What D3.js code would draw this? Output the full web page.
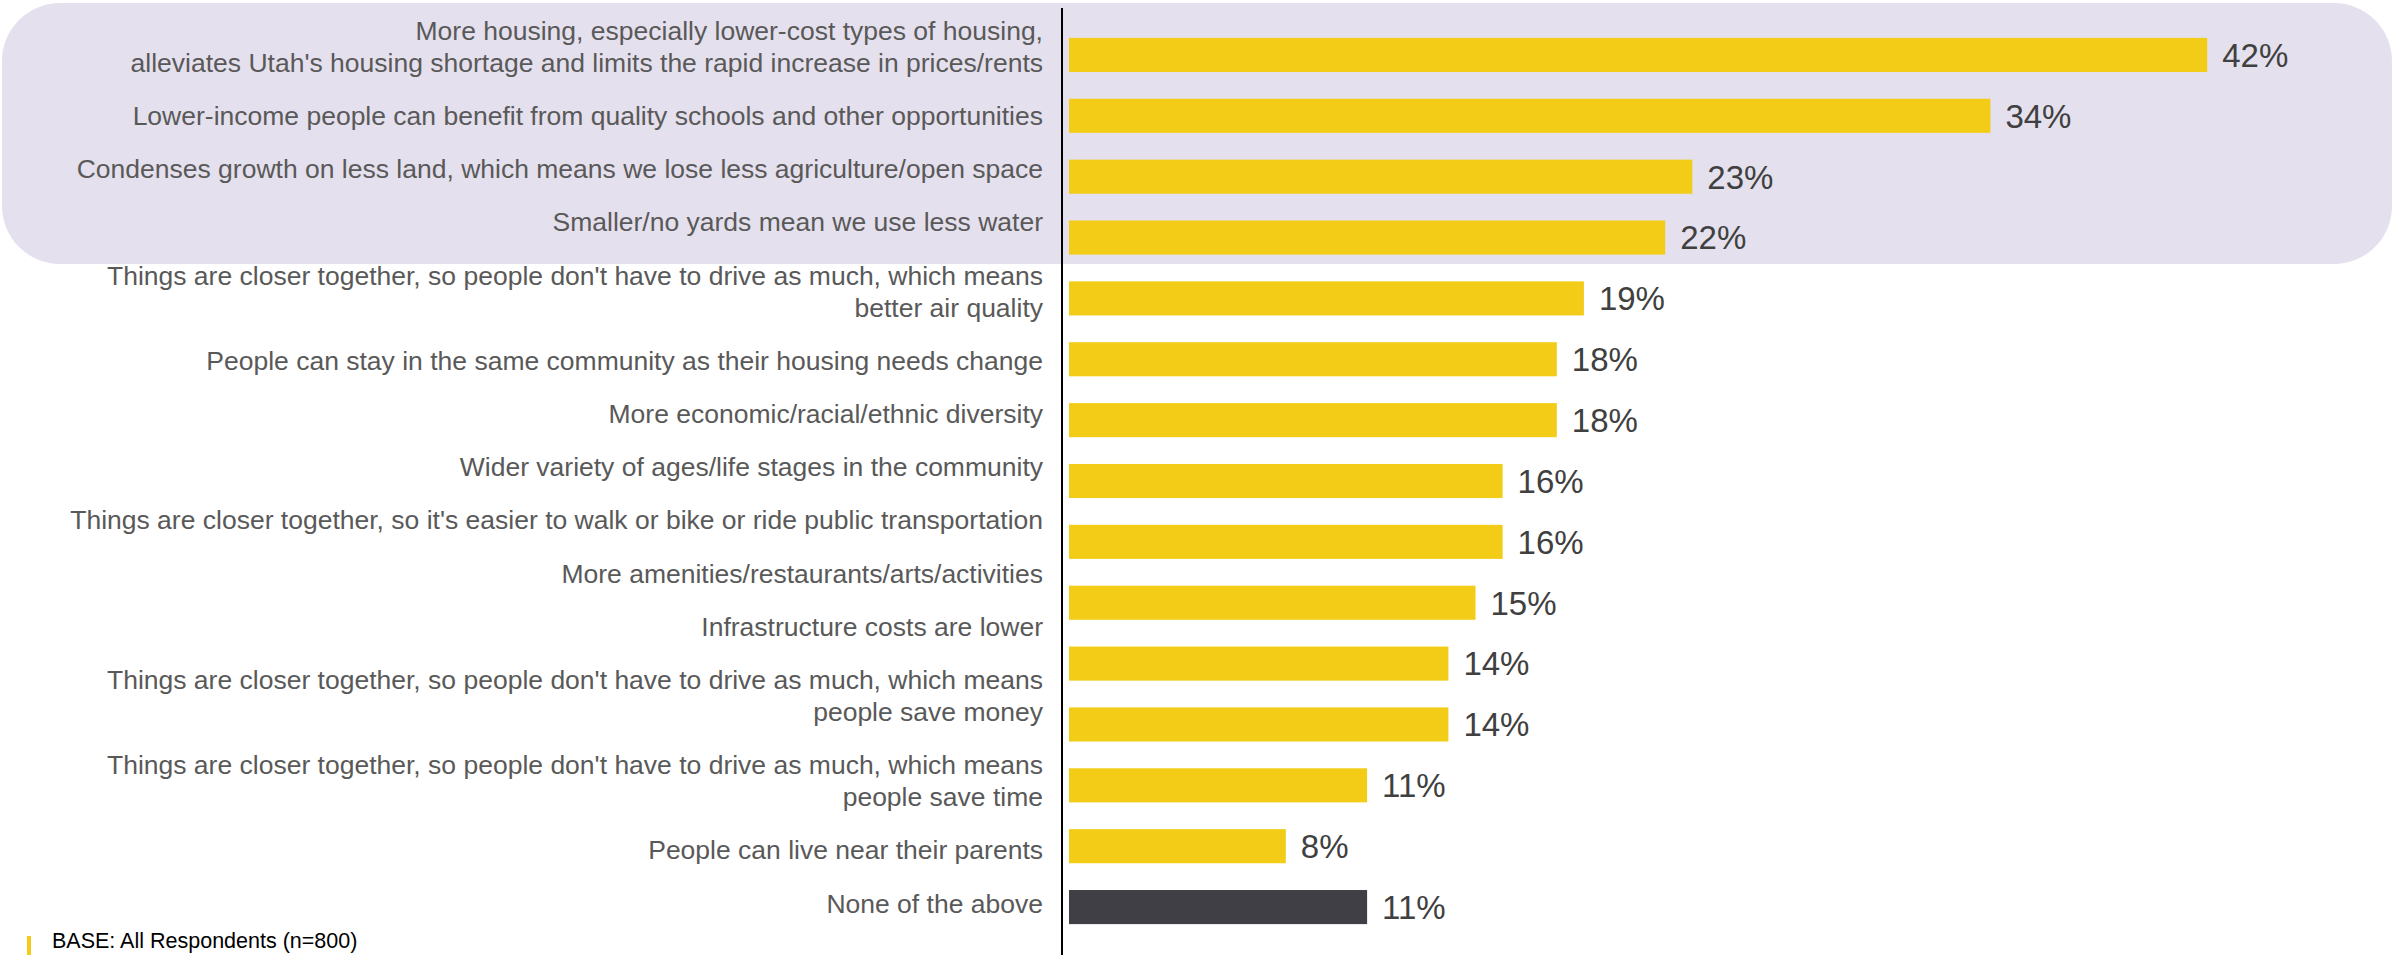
<!DOCTYPE html>
<html>
<head>
<meta charset="utf-8">
<script src="https://cdn.jsdelivr.net/npm/d3@7"></script>
<style>
  html, body { margin: 0; padding: 0; background: #ffffff; }
  svg { display: block; }
</style>
</head>
<body>
<script>
// ---- Data ----
const categories = [
  ["More housing, especially lower-cost types of housing,", "alleviates Utah's housing shortage and limits the rapid increase in prices/rents"],
  ["Lower-income people can benefit from quality schools and other opportunities"],
  ["Condenses growth on less land, which means we lose less agriculture/open space"],
  ["Smaller/no yards mean we use less water"],
  ["Things are closer together, so people don't have to drive as much, which means", "better air quality"],
  ["People can stay in the same community as their housing needs change"],
  ["More economic/racial/ethnic diversity"],
  ["Wider variety of ages/life stages in the community"],
  ["Things are closer together, so it's easier to walk or bike or ride public transportation"],
  ["More amenities/restaurants/arts/activities"],
  ["Infrastructure costs are lower"],
  ["Things are closer together, so people don't have to drive as much, which means", "people save money"],
  ["Things are closer together, so people don't have to drive as much, which means", "people save time"],
  ["People can live near their parents"],
  ["None of the above"]
];
const values = [42, 34, 23, 22, 19, 18, 18, 16, 16, 15, 14, 14, 11, 8, 11];
const highlighted = [0, 1, 2, 3];      // indices inside the shaded box
const noneIndex = [14];                 // "None of the above" bar
const baseNote = "BASE: All Respondents (n=800)";

// ---- Layout ----
const W = 2395, H = 955;
const svg = d3.select("body").append("svg").attr("width", W).attr("height", H);

const idx = d3.range(categories.length);
const y = d3.scaleBand().domain(idx).range([24.5, 937.5]).paddingInner(0.44).paddingOuter(0.22);
const x = d3.scaleLinear().domain([0, 50]).range([1069, 2424]);

// highlight box behind the top rows
svg.append("rect")
  .attr("x", 2).attr("y", 3)
  .attr("width", 2390).attr("height", 261)
  .attr("rx", 58).attr("ry", 58)
  .attr("fill", "#E5E0ED");

// bars
svg.append("g").selectAll("rect")
  .data(idx)
  .join("rect")
  .attr("x", x(0))
  .attr("y", i => y(i))
  .attr("width", i => x(values[i]) - x(0))
  .attr("height", y.bandwidth())
  .attr("fill", i => noneIndex.includes(i) ? "#403F45" : "#F2CC16");

// value labels
svg.append("g").selectAll("text")
  .data(idx)
  .join("text")
  .attr("x", i => x(values[i]) + 15)
  .attr("y", i => y(i) + y.bandwidth() / 2)
  .attr("dy", "0.36em")
  .attr("font-family", "'Liberation Sans', Arial, sans-serif")
  .attr("font-size", 33)
  .attr("fill", "#404040")
  .text(i => values[i] + "%");

// category labels: flowed text block (lines and paragraph steps)
const lineStep = 32, paraStep = 53.2;
let cy = 30.5;
const lineData = [];
categories.forEach((lines, i) => {
  lines.forEach((t, j) => {
    lineData.push({ t, y: cy });
    if (j < lines.length - 1) cy += lineStep;
  });
  cy += paraStep;
});
svg.append("g").selectAll("text")
  .data(lineData)
  .join("text")
  .attr("x", 1043)
  .attr("y", d => d.y)
  .attr("dy", "0.35em")
  .attr("text-anchor", "end")
  .attr("font-family", "'Liberation Sans', Arial, sans-serif")
  .attr("font-size", 26.5)
  .attr("fill", "#595959")
  .text(d => d.t);

// vertical axis line
svg.append("line")
  .attr("x1", 1062).attr("x2", 1062)
  .attr("y1", 8).attr("y2", H)
  .attr("stroke", "#000").attr("stroke-width", 2);

// base note
svg.append("rect").attr("x", 27).attr("y", 936).attr("width", 4).attr("height", 19).attr("fill", "#F2CC16");
svg.append("text")
  .attr("x", 52).attr("y", 948)
  .attr("font-family", "'Liberation Sans', Arial, sans-serif")
  .attr("font-size", 21.5)
  .attr("fill", "#000")
  .text(baseNote);
</script>
</body>
</html>
